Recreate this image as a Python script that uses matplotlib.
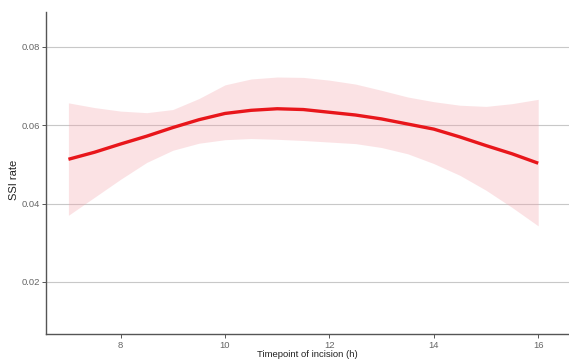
import numpy as np
import matplotlib.pyplot as plt

plt.rcParams['font.family'] = ['Liberation Sans', 'DejaVu Sans']

# values (smooth fit + confidence band)
hours = [7, 7.5, 8, 8.5, 9, 9.5, 10, 10.5, 11, 11.5, 12, 12.5, 13, 13.5, 14, 14.5, 15, 15.5, 16]
fit = [0.0513, 0.0531, 0.0552, 0.0572, 0.0594, 0.0614, 0.0630, 0.0638, 0.0642, 0.0640,
       0.0633, 0.0626, 0.0616, 0.0603, 0.0590, 0.0570, 0.0548, 0.0527, 0.0503]
upper = [0.0657, 0.0645, 0.0636, 0.0632, 0.0640, 0.0668, 0.0703, 0.0718, 0.0723, 0.0722,
         0.0715, 0.0705, 0.0689, 0.0672, 0.0660, 0.0651, 0.0648, 0.0655, 0.0666]
lower = [0.0370, 0.0416, 0.0462, 0.0505, 0.0536, 0.0554, 0.0563, 0.0566, 0.0564, 0.0561,
         0.0557, 0.0553, 0.0543, 0.0527, 0.0502, 0.0472, 0.0434, 0.0390, 0.0343]
xticks = [8, 10, 12, 14, 16]
yticks = [0.02, 0.04, 0.06, 0.08]

fig = plt.figure(figsize=(5.69, 3.6), dpi=100)
ax = fig.add_axes([0.0808, 0.0722, 0.9192, 0.8945])

ax.fill_between(hours, lower, upper, color='#f4a0a8', alpha=0.3, lw=0, zorder=2)
ax.plot(hours, fit, color='#e8161b', lw=2.4, zorder=3, solid_capstyle='butt')

ax.set_xlim(6.57, 16.59)
ax.set_ylim(0.0067, 0.0889)
ax.set_xticks(xticks)
ax.set_yticks(yticks)
ax.set_yticklabels(['0.02', '0.04', '0.06', '0.08'])
ax.grid(axis='y', color='#c8c8c8', lw=0.8, zorder=1)

for s in ['top', 'right']:
    ax.spines[s].set_visible(False)
for s in ['left', 'bottom']:
    ax.spines[s].set_color('#555555')
    ax.spines[s].set_linewidth(1.0)
ax.tick_params(labelsize=6.8, colors='#555555', length=3, width=0.7)
ax.tick_params(axis='x', pad=2)
ax.tick_params(axis='y', pad=1.5)
for lab in ax.get_xticklabels() + ax.get_yticklabels():
    lab.set_color('#666666')

ax.set_xlabel('Timepoint of incision (h)', fontsize=6.8, color='#222222', labelpad=0)
ax.set_ylabel('SSI rate', fontsize=8, color='#222222')
ax.yaxis.set_label_coords(-0.052, 0.48)

fig.savefig('out.png', dpi=100)
